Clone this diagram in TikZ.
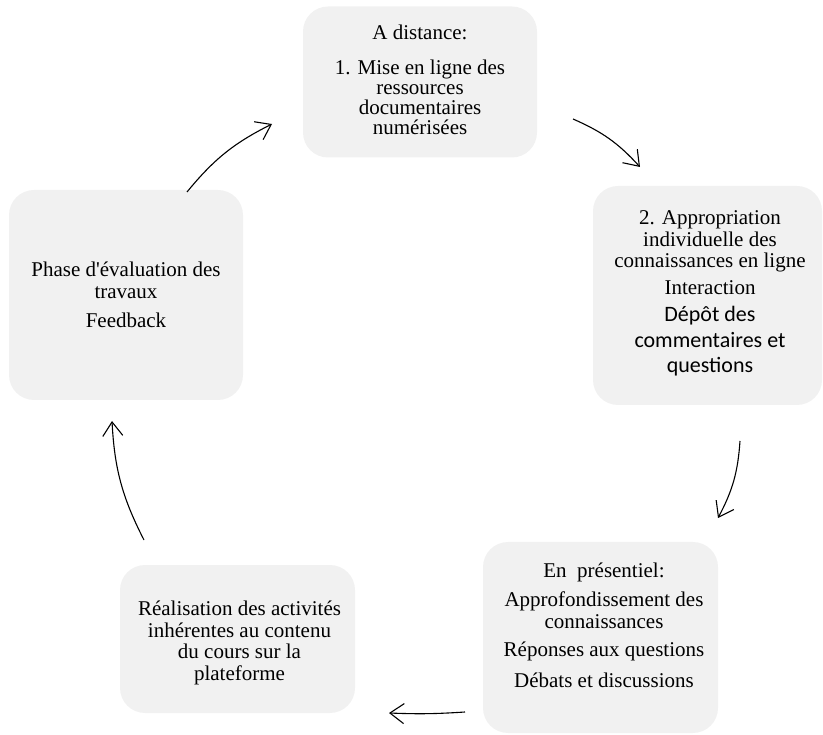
\documentclass[tikz,border=0pt]{standalone}
\usepackage{fontspec}
\setmainfont{Liberation Serif}[Ligatures=TeXOff]
\newfontfamily\calibfont{Carlito}
\usetikzlibrary{arrows.meta}
\definecolor{boxfill}{HTML}{F1F1F1}
\begin{document}
\begin{tikzpicture}[x=1pt,y=1pt,
  box/.style={draw=none, fill=boxfill, rounded corners=25pt, inner sep=0pt},
  txt/.style={align=center, font=\fontsize{21}{21.5}\selectfont, inner sep=0pt, anchor=base},
  cyc/.style={line width=1.1pt, -{Straight Barb[length=14pt,width=20pt]}}]
\useasboundingbox (0,0) rectangle (823,-735);
% boxes
\node[box, minimum width=234pt, minimum height=151pt] (b1) at (420,-82) {};
\node[box, minimum width=229pt, minimum height=219pt] (b2) at (707.5,-295.5) {};
\node[box, minimum width=235pt, minimum height=191pt] (b3) at (600.5,-637.5) {};
\node[box, minimum width=235pt, minimum height=148pt] (b4) at (237.5,-639) {};
\node[box, minimum width=234pt, minimum height=210pt] (b5) at (126,-295) {};
% texts (anchored at the baseline of their last line)
\node[txt, font=\fontsize{21}{20}\selectfont] (t1) at (420,-135) {A distance:\\[15pt]1. Mise en ligne des\\ressources\\documentaires\\numérisées};
\node[txt] (t2) at (710,-373) {2. Appropriation\\individuelle des\\connaissances en ligne\\[5.5pt]Interaction\\[5.5pt]{\fontsize{22}{25.5}\calibfont Dépôt des}\\[4pt]{\fontsize{22}{25.5}\calibfont commentaires et}\\[4pt]{\fontsize{22}{25.5}\calibfont questions}};
\node[txt] (t3) at (604,-687) {En\ \ présentiel:\\[8pt]Approfondissement des\\connaissances\\[7pt]Réponses aux questions\\[9pt]Débats et discussions};
\node[txt] (t4) at (239.5,-680) {Réalisation des activités\\inhérentes au contenu\\du cours sur la\\plateforme};
\node[txt] (t5) at (126,-328) {Phase d'évaluation des\\travaux\\[8pt]Feedback};
% connector ends
\coordinate (a1s) at (187,-192); \coordinate (a1e) at (272,-124);
\coordinate (a2s) at (573,-119); \coordinate (a2e) at (640,-167);
\coordinate (a3s) at (740,-441); \coordinate (a3e) at (718,-518);
\coordinate (a4s) at (465,-712); \coordinate (a4e) at (389,-713);
\coordinate (a5s) at (144,-540); \coordinate (a5e) at (112,-421);
\draw[cyc] (a1s) to[bend left=12] (a1e);
\draw[cyc] (a2s) to[bend left=12] (a2e);
\draw[cyc] (a3s) to[bend left=12] (a3e);
\draw[cyc] (a4s) to[bend left=3] (a4e);
\draw[cyc] (a5s) to[bend left=12] (a5e);
\end{tikzpicture}
\end{document}
